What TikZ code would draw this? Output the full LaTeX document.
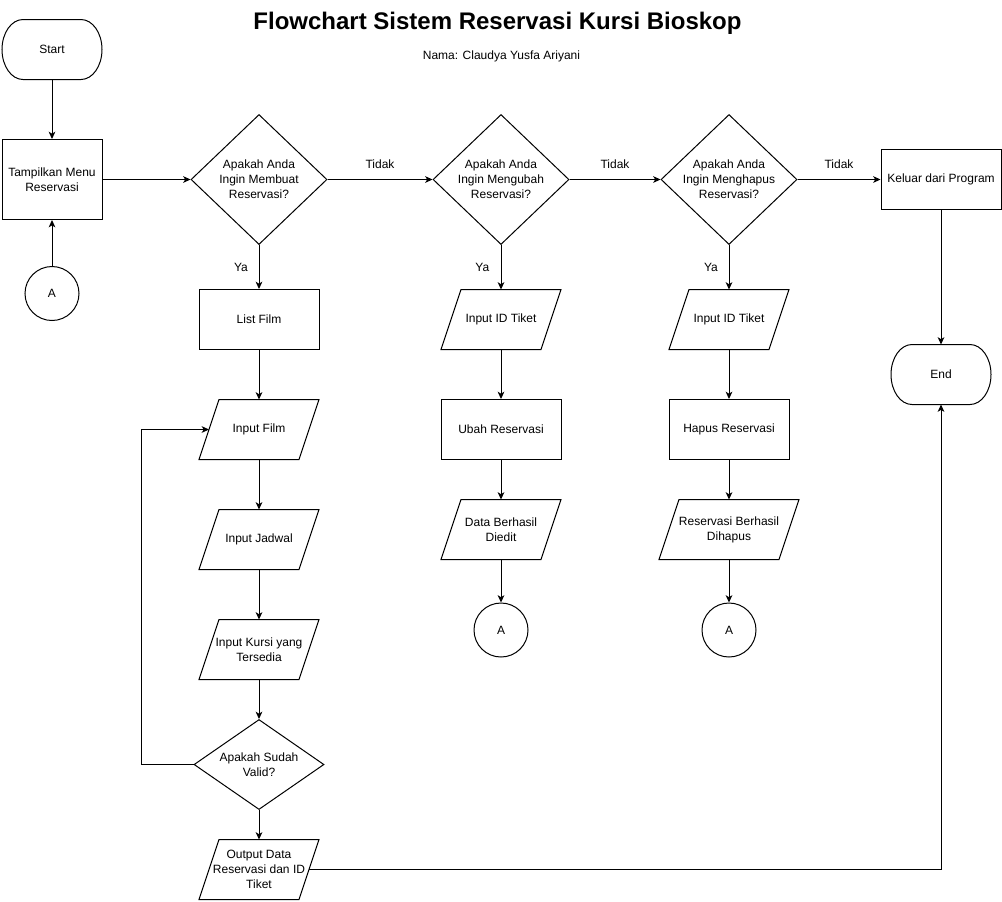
\documentclass[tikz,border=0pt]{standalone}
\usepackage{fontspec}
\setmainfont{Liberation Sans}
\usetikzlibrary{shapes.geometric,arrows.meta,calc}
\begin{document}
\begin{tikzpicture}[x=0.75pt,y=-0.75pt,
  every node/.style={font=\fontsize{9}{11.25}\selectfont, align=center},
  shp/.style={draw=black, line width=0.75pt},
  terminal/.style={rectangle, minimum width=75pt, minimum height=45pt, outer sep=0pt},
  procbox/.style={shp, rectangle, minimum width=90pt, minimum height=45pt, inner sep=1pt},
  iobox/.style={rectangle, minimum width=90pt, minimum height=45pt, inner sep=1pt, outer sep=0pt},
  decision/.style={shp, diamond, inner sep=-3pt, aspect=1.2, minimum width=102pt, minimum height=97.5pt},
  connector/.style={shp, circle, minimum size=40.5pt, inner sep=0pt},
  arrow/.style={line width=0.75pt, draw=black, -{Stealth[length=5.5pt,width=5pt,inset=1.5pt]}},
  lbl/.style={inner sep=0pt},
]
\useasboundingbox (0,0) rectangle (1002,901);

% titles
\node[font=\bfseries\fontsize{18}{21}\selectfont, anchor=base] (title) at (497.5,29) {Flowchart Sistem Reservasi Kursi Bioskop};
\node[anchor=base] (nama) at (501.5,59.5) {Nama: Claudya Yusfa Ariyani};

% left column
\node[terminal] (start) at (52,49.5) {Start};
\node[procbox, minimum width=75pt, minimum height=60pt] (menu) at (52,179.5) {Tampilkan Menu\\Reservasi};
\node[connector] (ca1) at (52,293.5) {A};

% decisions row
\node[decision] (d1) at (259,179.5) {Apakah Anda\\Ingin Membuat\\Reservasi?};
\node[decision] (d2) at (501,179.5) {Apakah Anda\\Ingin Mengubah\\Reservasi?};
\node[decision] (d3) at (729,179.5) {Apakah Anda\\Ingin Menghapus\\Reservasi?};
\node[procbox] (exit) at (941,179.5) {Keluar dari Program};
\node[terminal] (end) at (941,374.5) {End};

% create column
\node[procbox] (list) at (259,319.5) {List Film};
\node[iobox] (film) at (259,429.5) {Input Film};
\node[iobox] (jadwal) at (259,539.5) {Input Jadwal};
\node[iobox] (kursi) at (259,649.5) {Input Kursi yang\\Tersedia};
\node[decision, aspect=1.5, minimum width=97.5pt, minimum height=67.5pt] (valid) at (259,764.5) {Apakah Sudah\\Valid?};
\node[iobox] (output) at (259,869.5) {Output Data\\Reservasi dan ID\\Tiket};

% edit column
\node[iobox] (id2) at (501,319.5) {Input ID Tiket};
\node[procbox] (ubah) at (501,429.5) {Ubah Reservasi};
\node[iobox] (edit) at (501,529.5) {Data Berhasil\\Diedit};
\node[connector] (ca2) at (501,630) {A};

% delete column
\node[iobox] (id3) at (729,319.5) {Input ID Tiket};
\node[procbox] (hapus) at (729,429.5) {Hapus Reservasi};
\node[iobox, minimum width=105pt] (hps) at (729,529.5) {Reservasi Berhasil\\Dihapus};
\node[connector] (ca3) at (729,630) {A};

% parallelogram outlines
\foreach \n in {film,jadwal,kursi,output,id2,edit,id3,hps}
  \draw[shp] ([xshift=15pt]\n.north west) -- (\n.north east) -- ([xshift=-15pt]\n.south east) -- (\n.south west) -- cycle;

% terminator outlines
\foreach \n in {start,end}
  \draw[shp] ([xshift=15.75pt]\n.north west) -- ([xshift=-15.75pt]\n.north east)
    arc[start angle=90, end angle=-90, x radius=15.75pt, y radius=22.5pt]
    -- ([xshift=15.75pt]\n.south west)
    arc[start angle=270, end angle=90, x radius=15.75pt, y radius=22.5pt] -- cycle;

% connectors
\draw[arrow] (start) -- (menu);
\draw[arrow] (ca1) -- (menu);
\draw[arrow] (menu) -- (d1);
\draw[arrow] (d1) -- node[lbl, yshift=11.25pt]{Tidak} (d2);
\draw[arrow] (d2) -- node[lbl, yshift=11.25pt]{Tidak} (d3);
\draw[arrow] (d3) -- node[lbl, yshift=11.25pt]{Tidak} (exit);
\draw[arrow] (exit) -- (end);

\draw[arrow] (d1) -- node[lbl, xshift=-13.5pt]{Ya} (list);
\draw[arrow] (list) -- (film);
\draw[arrow] (film) -- (jadwal);
\draw[arrow] (jadwal) -- (kursi);
\draw[arrow] (kursi) -- (valid);
\draw[arrow] (valid) -- (output);
\draw[arrow] (valid.west) -| ([xshift=-39pt]valid.west) |- ([xshift=7.5pt]film.west);
\draw[arrow] ([xshift=-7.5pt]output.east) -| (end.south);

\draw[arrow] (d2) -- node[lbl, xshift=-14pt]{Ya} (id2);
\draw[arrow] (id2) -- (ubah);
\draw[arrow] (ubah) -- (edit);
\draw[arrow] (edit) -- (ca2);

\draw[arrow] (d3) -- node[lbl, xshift=-13.5pt]{Ya} (id3);
\draw[arrow] (id3) -- (hapus);
\draw[arrow] (hapus) -- (hps);
\draw[arrow] (hps) -- (ca3);
\end{tikzpicture}
\end{document}
